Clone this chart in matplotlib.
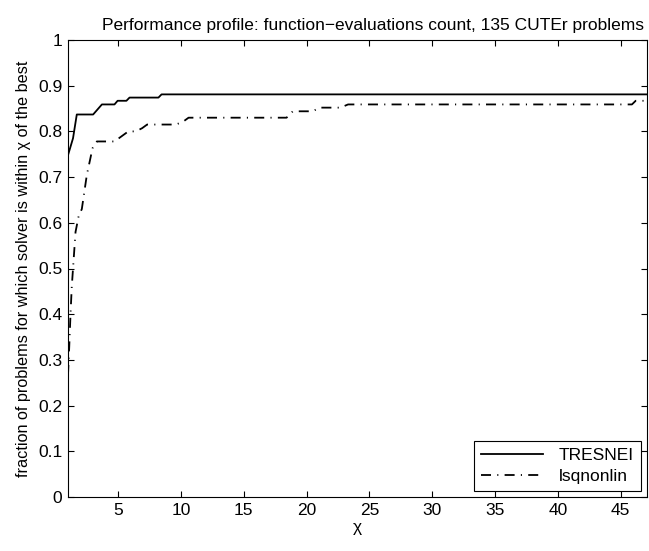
import matplotlib
matplotlib.use("Agg")
import matplotlib.pyplot as plt

plt.rcParams['font.family'] = ['Liberation Sans', 'DejaVu Sans']
plt.rcParams['lines.scale_dashes'] = False

# TRESNEI profile (chi, fraction)
tres_x = [1.0, 1.4, 1.7, 3.0, 3.7, 4.7, 4.95, 5.65, 5.9, 8.2, 8.45, 47.1]
tres_y = [0.748, 0.785, 0.837, 0.837, 0.859, 0.859, 0.867, 0.867, 0.874, 0.874, 0.881, 0.881]

# lsqnonlin profile (chi, fraction)
lsq_x = [1.0, 1.1, 1.2, 1.3, 1.45, 1.6, 1.85, 2.1, 2.5, 2.75, 2.95, 3.3, 4.7, 5.3, 5.8,
         6.4, 6.9, 7.3, 9.6, 10.2, 10.6, 18.4, 18.9, 20.5, 21.0, 22.7, 23.3, 45.9, 46.2, 47.1]
lsq_y = [0.267, 0.33, 0.40, 0.46, 0.52, 0.58, 0.615, 0.63, 0.705, 0.737, 0.763, 0.778, 0.778,
         0.79, 0.80, 0.80, 0.807, 0.815, 0.815, 0.822, 0.83, 0.83, 0.844, 0.844, 0.852, 0.852,
         0.859, 0.859, 0.867, 0.867]

xticks = [5, 10, 15, 20, 25, 30, 35, 40, 45]
yticks = [0, 0.1, 0.2, 0.3, 0.4, 0.5, 0.6, 0.7, 0.8, 0.9, 1]
ytick_labels = ['0', '0.1', '0.2', '0.3', '0.4', '0.5', '0.6', '0.7', '0.8', '0.9', '1']

fig = plt.figure(figsize=(6.49, 5.51), dpi=100)
ax = fig.add_axes([68/649, 54/551, (647-68)/649, (497-40)/551])

ax.plot(tres_x, tres_y, color='black', linewidth=1.3, label='TRESNEI')
ax.plot(lsq_x, lsq_y, color='black', linewidth=1.3, linestyle=(0, (7.2, 4.5, 0.8, 4.5)),
        label='lsqnonlin')

ax.set_xlim(1, 47.1)
ax.set_ylim(0, 1)
ax.set_xticks(xticks)
ax.set_yticks(yticks)
ax.set_yticklabels(ytick_labels)
ax.tick_params(direction='in', top=True, right=True, length=4, width=0.8,
               labelsize=12.5, colors='black', pad=4)
for s in ax.spines.values():
    s.set_linewidth(0.8)

ax.set_xlabel('χ', fontsize=12.5, labelpad=2)
ax.set_ylabel('fraction of problems for which solver is within χ of the best', fontsize=11.7, labelpad=5)
ttl = ax.set_title('Performance profile: function\u2212evaluations count, 135 CUTEr problems',
                   fontsize=12.5, pad=7)
ttl.set_x(0.527)

leg = ax.legend(loc='lower right', fontsize=12.5, fancybox=False, framealpha=1,
                edgecolor='black', handlelength=3.6, borderaxespad=0.35,
                borderpad=0.4, labelspacing=0.35, handletextpad=0.9)
leg.get_frame().set_linewidth(0.8)

fig.savefig('out.png', dpi=100)
